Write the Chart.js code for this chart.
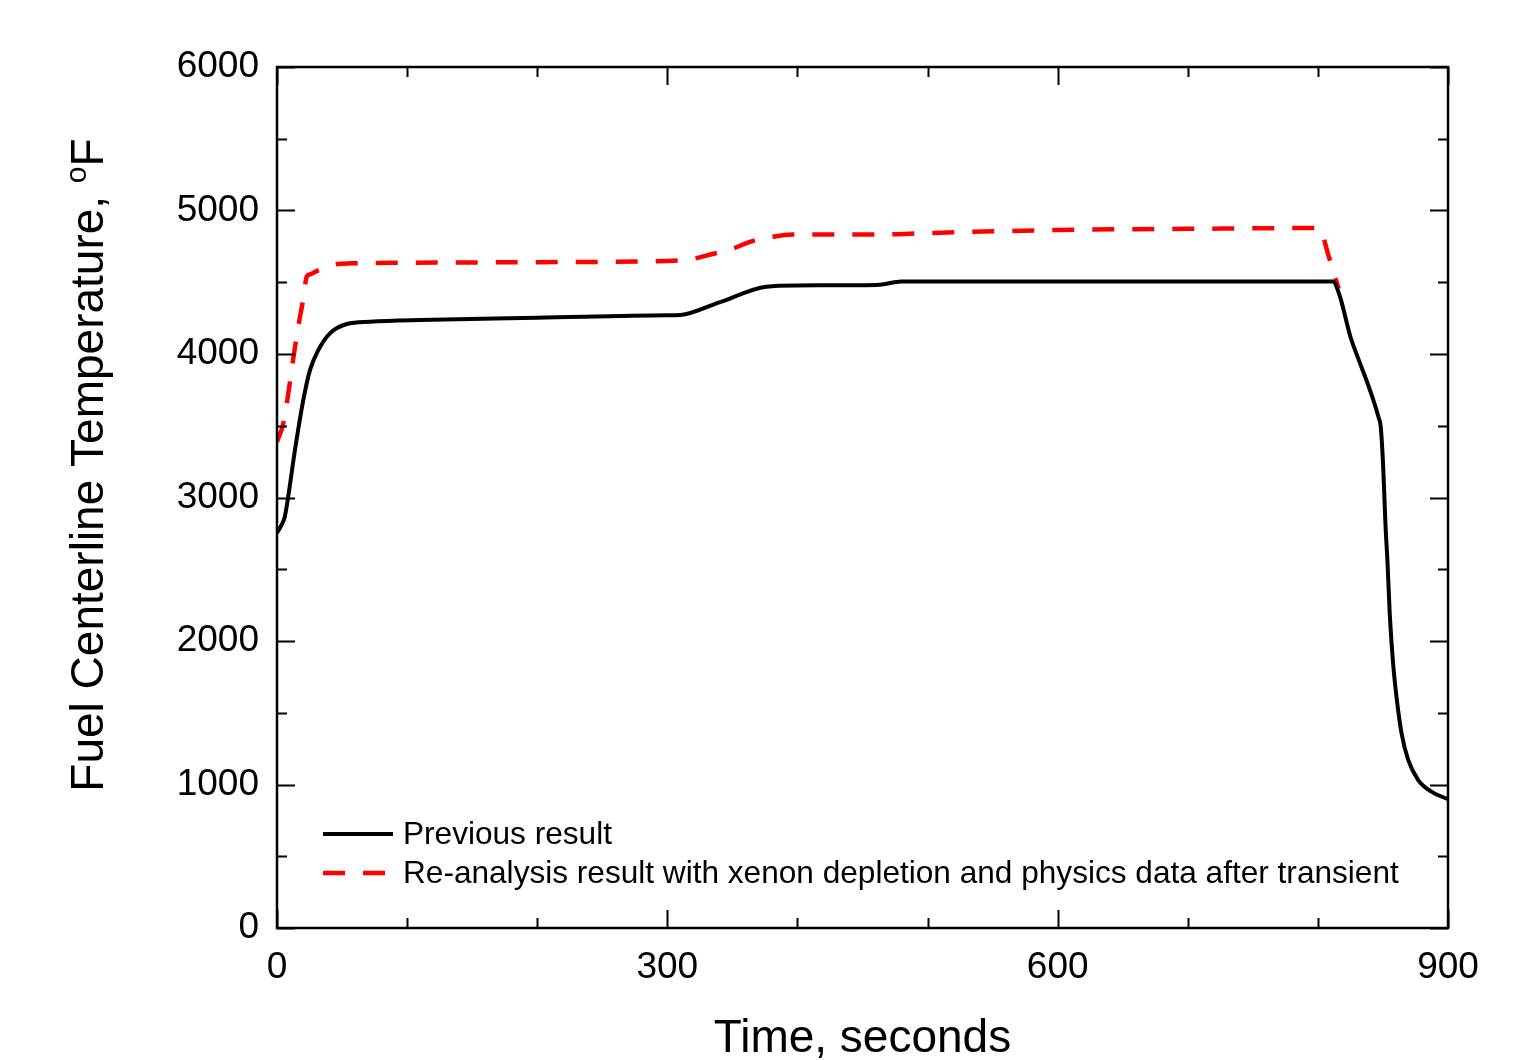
<!DOCTYPE html>
<html>
<head>
<meta charset="utf-8">
<script src="https://cdn.jsdelivr.net/npm/chart.js@4/dist/chart.umd.min.js"></script>
<style>
  html, body { margin: 0; padding: 0; background: #ffffff; }
  #wrap { width: 1521px; height: 1060px; position: relative; }
</style>
</head>
<body>
<div id="wrap"><canvas id="c" width="1521" height="1060"></canvas></div>
<script>
// ---- data ----
const seriesLabels = [
  "Previous result",
  "Re-analysis result with xenon depletion and physics data after transient"
];
const timePrev = [0, 3, 6, 8.5, 13.8, 20.2, 25.4, 31.8, 40.7, 53.6, 71.5, 110, 200, 300, 310, 340, 376, 400, 461, 480, 600, 700, 811.5, 817, 825, 832.4, 840, 846.5, 848.3, 850, 852, 853.5, 855.2, 857.8, 860.4, 864.3, 869.4, 877.1, 887.3, 900];
const tempPrev = [2753, 2800, 2866, 3000, 3331, 3679, 3889, 4028, 4144, 4209, 4225, 4237, 4252, 4270, 4272, 4360, 4469, 4478, 4481, 4505, 4505, 4505, 4505, 4399, 4120, 3935, 3749, 3563, 3493, 3250, 2800, 2550, 2192, 1844, 1612, 1357, 1171, 1031, 950, 897];
const timeRe = [0, 4.9, 10, 12.5, 15.1, 17.7, 20.3, 22.8, 25.4, 32, 39.4, 45, 57.4, 100, 200, 300, 318.7, 333, 350.7, 363.6, 381, 396.7, 463, 500, 600, 700, 801, 808, 816];
const tempRe = [3389, 3517, 3807, 3969, 4121, 4260, 4388, 4539, 4555, 4585, 4608, 4625, 4632, 4636, 4640, 4648, 4662, 4693, 4736, 4782, 4817, 4833, 4833, 4843, 4864, 4872, 4878, 4690, 4455];
const xMin = 0, xMax = 900, xStep = 100, xLabelEvery = 300;
const yMin = 0, yMax = 6000, yStep = 500, yLabelEvery = 1000;
const xTitle = "Time, seconds";
const yTitleMain = "Fuel Centerline Temperature, ";
const yTitleSup = "o";
const yTitleUnit = "F";

const FONT = "'Liberation Sans', Arial, Helvetica, sans-serif";

function toXY(xs, ys) { return xs.map((x, i) => ({ x: x, y: ys[i] })); }

const decor = {
  id: 'decor',
  afterDraw(chart) {
    const ctx = chart.ctx;
    const a = chart.chartArea;
    const xs = chart.scales.x, ys = chart.scales.y;
    ctx.save();
    // frame
    ctx.strokeStyle = '#000';
    ctx.lineWidth = 2.5;
    ctx.strokeRect(a.left, a.top, a.right - a.left, a.bottom - a.top);
    // inward ticks, mirrored on all four sides
    ctx.lineWidth = 2;
    xs.ticks.forEach(t => {
      const px = Math.round(xs.getPixelForValue(t.value)) + 0.5;
      const len = (t.value % xLabelEvery === 0) ? 18 : 10;
      ctx.beginPath();
      ctx.moveTo(px, a.bottom); ctx.lineTo(px, a.bottom - len);
      ctx.moveTo(px, a.top); ctx.lineTo(px, a.top + len);
      ctx.stroke();
    });
    ys.ticks.forEach(t => {
      const py = Math.round(ys.getPixelForValue(t.value)) + 0.5;
      const len = (t.value % yLabelEvery === 0) ? 18 : 10;
      ctx.beginPath();
      ctx.moveTo(a.left, py); ctx.lineTo(a.left + len, py);
      ctx.moveTo(a.right, py); ctx.lineTo(a.right - len, py);
      ctx.stroke();
    });
    // legend inside plot
    const lx0 = a.left + 46, lx1 = a.left + 116, tx = a.left + 126;
    const rows = [a.bottom - 94, a.bottom - 55];
    chart.data.datasets.forEach((ds, i) => {
      const y = rows[i];
      ctx.beginPath();
      ctx.strokeStyle = ds.borderColor;
      ctx.lineWidth = ds.borderWidth;
      ctx.setLineDash(ds.borderDash || []);
      ctx.moveTo(lx0, y); ctx.lineTo(lx1, y);
      ctx.stroke();
      ctx.setLineDash([]);
      ctx.fillStyle = '#000';
      ctx.font = '31.6px ' + FONT;
      ctx.textAlign = 'left';
      ctx.textBaseline = 'middle';
      ctx.fillText(ds.label, tx, y + 1);
    });
    // x title
    ctx.fillStyle = '#000';
    ctx.font = '46px ' + FONT;
    ctx.textAlign = 'center';
    ctx.textBaseline = 'alphabetic';
    ctx.fillText(xTitle, (a.left + a.right) / 2, 1052);
    // y title with superscript
    ctx.save();
    ctx.translate(103, 465);
    ctx.rotate(-Math.PI / 2);
    ctx.font = '46px ' + FONT;
    const w1 = ctx.measureText(yTitleMain).width;
    const w3 = ctx.measureText(yTitleUnit).width;
    ctx.font = '30px ' + FONT;
    const w2 = ctx.measureText(yTitleSup).width;
    let x0 = -(w1 + w2 + w3) / 2;
    ctx.textAlign = 'left';
    ctx.textBaseline = 'alphabetic';
    ctx.font = '46px ' + FONT;
    ctx.fillText(yTitleMain, x0, 0);
    ctx.font = '30px ' + FONT;
    ctx.fillText(yTitleSup, x0 + w1, -17);
    ctx.font = '46px ' + FONT;
    ctx.fillText(yTitleUnit, x0 + w1 + w2, 0);
    ctx.restore();
    ctx.restore();
  }
};

new Chart(document.getElementById('c'), {
  type: 'line',
  data: {
    datasets: [
      {
        label: seriesLabels[0],
        data: toXY(timePrev, tempPrev),
        borderColor: '#000000',
        borderWidth: 4,
        pointRadius: 0,
        fill: false,
        cubicInterpolationMode: 'monotone'
      },
      {
        label: seriesLabels[1],
        data: toXY(timeRe, tempRe),
        borderColor: '#ff0000',
        borderWidth: 4.5,
        borderDash: [22, 18],
        pointRadius: 0,
        fill: false,
        cubicInterpolationMode: 'monotone'
      }
    ]
  },
  options: {
    responsive: false,
    animation: false,
    devicePixelRatio: 1,
    layout: { padding: { top: 67, right: 73, left: 0, bottom: 0 } },
    plugins: { legend: { display: false }, tooltip: { enabled: false } },
    scales: {
      x: {
        type: 'linear', min: xMin, max: xMax,
        grid: { display: false }, border: { display: false },
        afterFit(s) { s.height = 132; },
        ticks: {
          stepSize: xStep, autoSkip: false, maxRotation: 0, padding: 10,
          color: '#000', font: { family: FONT, size: 37 },
          callback: v => (v % xLabelEvery === 0 ? String(v) : '')
        }
      },
      y: {
        type: 'linear', min: yMin, max: yMax,
        grid: { display: false }, border: { display: false },
        afterFit(s) { s.width = 277; },
        ticks: {
          stepSize: yStep, autoSkip: false, padding: 10,
          color: '#000', font: { family: FONT, size: 37 },
          callback: v => (v % yLabelEvery === 0 ? String(v) : '')
        }
      }
    }
  },
  plugins: [decor]
});
</script>
</body>
</html>
